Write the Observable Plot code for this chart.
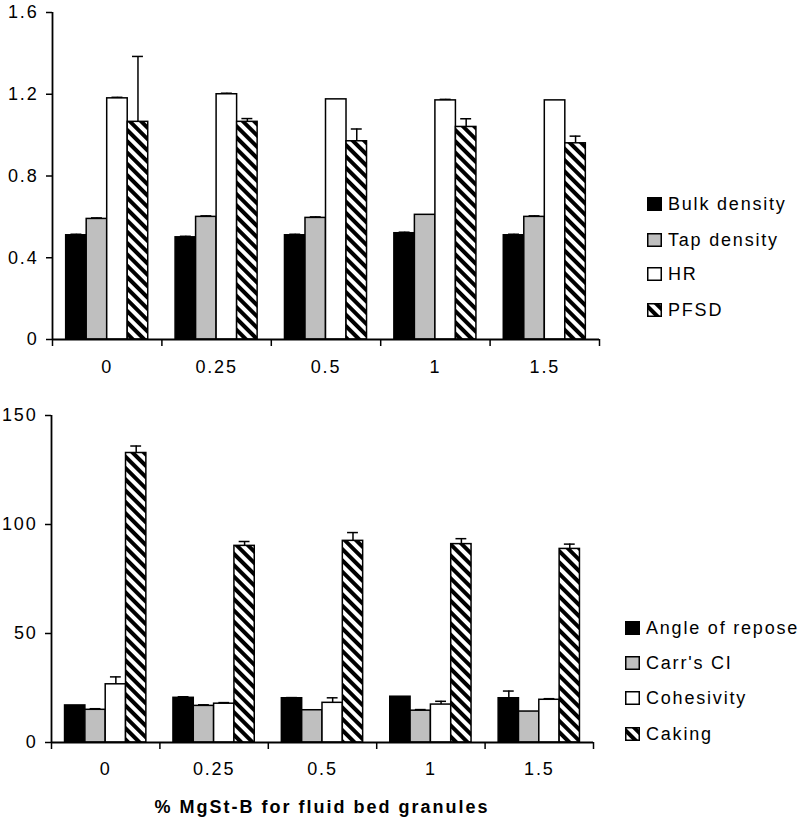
<!DOCTYPE html>
<html>
<head>
<meta charset="utf-8">
<script src="https://cdn.jsdelivr.net/npm/d3@7"></script>
<script src="https://cdn.jsdelivr.net/npm/@observablehq/plot@0.6"></script>
<style>
  html, body { margin: 0; padding: 0; background: #fff; }
  #wrap { position: relative; width: 799px; height: 825px; overflow: hidden; font-family: "Liberation Sans", Arial, sans-serif; color: #000; }
  .panel { position: absolute; left: 0; }
  .legend { position: absolute; font-size: 18px; letter-spacing: 1.8px; }
  .legend .item { position: absolute; white-space: nowrap; display: flex; align-items: center; height: 20px; }
  .legend svg { margin-right: 6px; }
  #xtitle { position: absolute; left: 51px; width: 542px; top: 797px; text-align: center; font-weight: bold; font-size: 18px; letter-spacing: 2px; }
</style>
</head>
<body>
<svg width="0" height="0" style="position:absolute">
  <defs>
    <pattern id="hatch" patternUnits="userSpaceOnUse" width="8" height="8" patternTransform="rotate(45)">
      <rect width="8" height="8" fill="white"></rect>
      <rect width="8" height="4" fill="black"></rect>
    </pattern>
  </defs>
</svg>
<div id="wrap"></div>
<script>
// ---- data ----
const categories = ["0", "0.25", "0.5", "1", "1.5"];

const topSeries = ["Bulk density", "Tap density", "HR", "PFSD"];
const bulkDensity    = [0.51, 0.50, 0.51, 0.52, 0.51];
const bulkDensityErr = [0.005, 0.005, 0.005, 0.005, 0.005];
const tapDensity     = [0.59, 0.60, 0.595, 0.61, 0.60];
const tapDensityErr  = [0.005, 0.005, 0.005, 0, 0.005];
const hr             = [1.18, 1.20, 1.175, 1.17, 1.17];
const hrErr          = [0.005, 0.005, 0, 0.005, 0];
const pfsd           = [1.065, 1.065, 0.97, 1.04, 0.96];
const pfsdErr        = [0.32, 0.016, 0.06, 0.04, 0.035];
const topTicks = [0, 0.4, 0.8, 1.2, 1.6];

const bottomSeries = ["Angle of repose", "Carr's CI", "Cohesivity", "Caking"];
const angleOfRepose    = [17, 20.5, 20.3, 21, 20.3];
const angleOfReposeErr = [0, 0.5, 0.3, 0, 3.3];
const carrsCI          = [15, 16.8, 14.8, 14.6, 14.2];
const carrsCIErr       = [0.5, 0.5, 0, 0.5, 0];
const cohesivity       = [26.7, 17.8, 18.2, 17.4, 19.6];
const cohesivityErr    = [3.4, 0.5, 2.3, 1.5, 0.5];
const caking           = [132.8, 90.2, 92.5, 91, 88.8];
const cakingErr        = [3.2, 2, 3.8, 2.5, 2.2];
const bottomTicks = [0, 50, 100, 150];

const xTitle = "% MgSt-B for fluid bed granules";
const fills = ["black", "#bfbfbf", "white", "url(#hatch)"];

// ---- build ----
function buildRows(series, values, errs) {
  const rows = [];
  series.forEach((s, si) => {
    values[si].forEach((v, ci) => rows.push({ci, si, cat: categories[ci], series: s, value: v, err: errs[si][ci]}));
  });
  return rows;
}
const topRows = buildRows(topSeries, [bulkDensity, tapDensity, hr, pfsd], [bulkDensityErr, tapDensityErr, hrErr, pfsdErr]);
const bottomRows = buildRows(bottomSeries, [angleOfRepose, carrsCI, cohesivity, caking], [angleOfReposeErr, carrsCIErr, cohesivityErr, cakingErr]);

const groupW = 0.75, nS = 4, barW = groupW / nS, capHalf = 0.05;
const left = d => d.ci - groupW / 2 + d.si * barW;
const mid = d => left(d) + barW / 2;

function panel(rows, series, yDomain, yTicks, opts) {
  const withErr = rows.filter(d => d.err > 0);
  return Plot.plot({
    width: 799,
    height: opts.height,
    marginTop: opts.marginTop,
    marginBottom: opts.marginBottom,
    marginLeft: opts.marginLeft,
    marginRight: opts.marginRight,
    style: {fontFamily: "'Liberation Sans', Arial, sans-serif", fontSize: "18px", letterSpacing: "1.8px", color: "black", background: "white", overflow: "visible"},
    x: {type: "linear", domain: [-0.5, categories.length - 0.5], axis: null},
    y: {domain: yDomain, axis: null},
    color: {type: "ordinal", domain: series, range: fills},
    marks: [
      Plot.rectY(rows, {x1: left, x2: d => left(d) + barW, y1: () => 0, y2: "value", fill: "series", stroke: "black", strokeWidth: 1.5}),
      Plot.ruleX(withErr, {x: mid, y1: "value", y2: d => d.value + d.err, stroke: "black", strokeWidth: 1.5}),
      Plot.ruleY(withErr, {x1: d => mid(d) - capHalf, x2: d => mid(d) + capHalf, y: d => d.value + d.err, stroke: "black", strokeWidth: 1.5}),
      Plot.ruleY([yDomain[0]], {stroke: "black", strokeWidth: 1.8}),
      Plot.ruleX([-0.5], {stroke: "black", strokeWidth: 1.8}),
      Plot.axisY({ticks: yTicks, tickSize: 6, tickPadding: 8, strokeWidth: 1.5, label: null, tickFormat: d => String(d)}),
      Plot.axisX({ticks: d3.range(-0.5, categories.length, 1), tickSize: 7, tickFormat: () => "", strokeWidth: 1.5, label: null}),
      Plot.axisX({ticks: d3.range(categories.length), tickSize: 0, tickPadding: opts.labelPad, tickFormat: i => categories[i], label: null})
    ]
  });
}

const wrap = document.getElementById("wrap");

const p1 = panel(topRows, topSeries, [0, 1.6], topTicks, {height: 385, marginTop: 12, marginBottom: 46, marginLeft: 52, marginRight: 200, labelPad: 21});
p1.classList.add("panel"); p1.style.top = "0px";
wrap.appendChild(p1);

const p2 = panel(bottomRows, bottomSeries, [0, 150], bottomTicks, {height: 440, marginTop: 30, marginBottom: 83, marginLeft: 51, marginRight: 206, labelPad: 20});
p2.classList.add("panel"); p2.style.top = "385px";
wrap.appendChild(p2);

function legend(series, x, ys) {
  const lg = document.createElement("div");
  lg.className = "legend";
  lg.style.left = x + "px"; lg.style.top = "0px";
  series.forEach((s, i) => {
    const it = document.createElement("div");
    it.className = "item";
    it.style.top = (ys[i] - 10) + "px";
    it.innerHTML = `<svg width="15" height="14"><rect x="0.75" y="0.75" width="13.5" height="12.5" fill="${fills[i]}" stroke="black" stroke-width="1.5"></rect></svg>`;
    const t = document.createElement("span");
    t.textContent = s;
    it.appendChild(t);
    lg.appendChild(it);
  });
  wrap.appendChild(lg);
}
legend(topSeries, 647, [204, 240, 274, 310]);
legend(bottomSeries, 625, [628, 663, 698, 734]);

const xt = document.createElement("div");
xt.id = "xtitle";
xt.textContent = xTitle;
wrap.appendChild(xt);
</script>
</body>
</html>
